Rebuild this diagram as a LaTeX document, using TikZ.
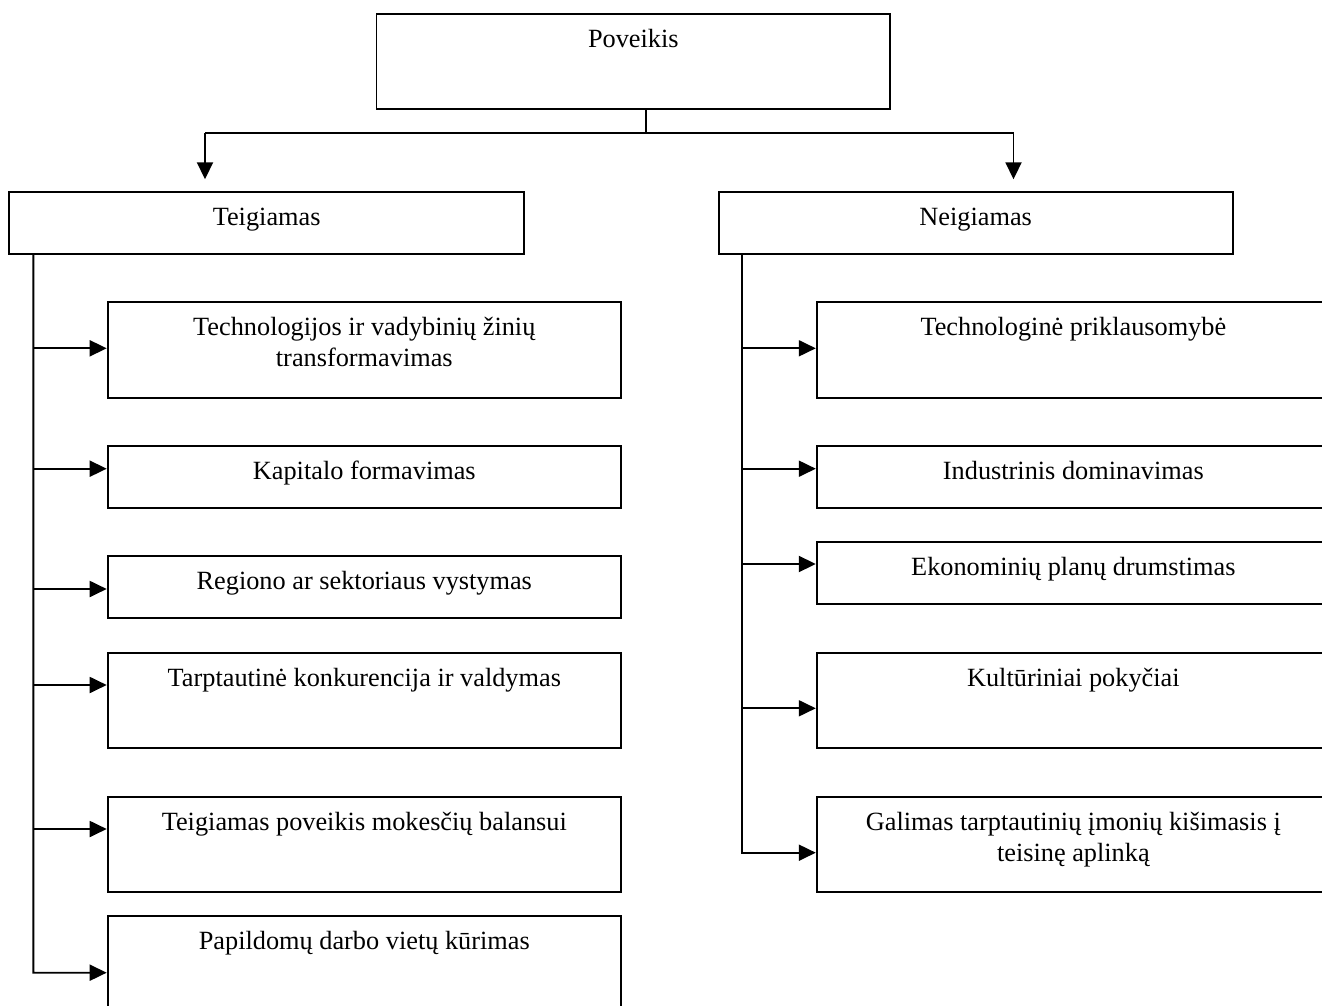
\documentclass[tikz,border=0pt]{standalone}
\usepackage{fontspec}
\setmainfont{Liberation Serif}
\usetikzlibrary{arrows.meta}
\tikzset{
  box/.style={draw, line width=1.9pt, inner sep=0pt, anchor=north west},
  txt/.style={anchor=base, inner sep=0pt, font=\fontsize{26.3}{32}\selectfont},
  conn/.style={line width=1.9pt},
  arr/.style={line width=1.9pt, -{Triangle[length=17pt,width=16pt]}}
}
\begin{document}
\begin{tikzpicture}[x=1pt,y=-1pt]
\useasboundingbox (0,0) rectangle (1322,1006);
\clip (0,0) rectangle (1322,1006);
% top level
\node[box, minimum width=513.8pt, minimum height=95pt] (P) at (375.5,12.7) {};
\node[txt] (Pt) at ([yshift=-34.8pt]P.north) {Poveikis};
% second level
\node[box, minimum width=514.6pt, minimum height=62pt] (T) at (8.4,190.7) {};
\node[txt] (Tt) at ([yshift=-34.8pt]T.north) {Teigiamas};
\node[box, minimum width=514pt, minimum height=62pt] (N) at (717.7,190.7) {};
\node[txt] (Nt) at ([yshift=-34.8pt]N.north) {Neigiamas};
% left boxes
\node[box, minimum width=513.3pt, minimum height=96pt] (L1) at (106.7,300.7) {};
\node[txt] (L1a) at ([yshift=-34.8pt]L1.north) {Technologijos ir vadybinių žinių};
\node[txt] (L1b) at ([yshift=-65.5pt]L1.north) {transformavimas};
\node[box, minimum width=513.3pt, minimum height=62pt] (L2) at (106.7,444.7) {};
\node[txt] (L2a) at ([yshift=-34.8pt]L2.north) {Kapitalo formavimas};
\node[box, minimum width=513.3pt, minimum height=62pt] (L3) at (106.7,554.7) {};
\node[txt] (L3a) at ([yshift=-34.8pt]L3.north) {Regiono ar sektoriaus vystymas};
\node[box, minimum width=513.3pt, minimum height=95pt] (L4) at (106.7,651.7) {};
\node[txt] (L4a) at ([yshift=-34.8pt]L4.north) {Tarptautinė konkurencija ir valdymas};
\node[box, minimum width=513.3pt, minimum height=95.3pt] (L5) at (106.7,795.7) {};
\node[txt] (L5a) at ([yshift=-34.8pt]L5.north) {Teigiamas poveikis mokesčių balansui};
\node[box, minimum width=513.3pt, minimum height=96pt] (L6) at (106.7,915) {};
\node[txt] (L6a) at ([yshift=-34.8pt]L6.north) {Papildomų darbo vietų kūrimas};
% right boxes
\node[box, minimum width=513.2pt, minimum height=96pt] (R1) at (815.8,300.7) {};
\node[txt] (R1a) at ([yshift=-34.8pt]R1.north) {Technologinė priklausomybė};
\node[box, minimum width=513.2pt, minimum height=62pt] (R2) at (815.8,444.7) {};
\node[txt] (R2a) at ([yshift=-34.8pt]R2.north) {Industrinis dominavimas};
\node[box, minimum width=513.2pt, minimum height=62pt] (R3) at (815.8,540.7) {};
\node[txt] (R3a) at ([yshift=-34.8pt]R3.north) {Ekonominių planų drumstimas};
\node[box, minimum width=513.2pt, minimum height=95pt] (R4) at (815.8,651.7) {};
\node[txt] (R4a) at ([yshift=-34.8pt]R4.north) {Kultūriniai pokyčiai};
\node[box, minimum width=513.2pt, minimum height=95.3pt] (R5) at (815.8,795.7) {};
\node[txt] (R5a) at ([yshift=-34.8pt]R5.north) {Galimas tarptautinių įmonių kišimasis į};
\node[txt] (R5b) at ([yshift=-65.5pt]R5.north) {teisinę aplinką};
% top connectors
\coordinate (hy) at (0,132.7);
\coordinate (pj) at ([xshift=12.6pt]P.south);
\coordinate (aL) at (205,132.7);
\coordinate (aR) at (1013.5,132.7);
\draw[conn] (pj) -- (pj |- hy);
\draw[conn] (aL) -- (aR);
\draw[arr, shorten >=11.4pt] (aL) -- (aL |- T.north);
\draw[arr, shorten >=11.4pt] (aR) -- (aR |- N.north);
% left trunk
\coordinate (lt) at ([xshift=24.9pt]T.south west);
\coordinate (la1) at (33.3,348.3);
\coordinate (la2) at (33.3,468.7);
\coordinate (la3) at (33.3,589);
\coordinate (la4) at (33.3,685);
\coordinate (la5) at (33.3,829);
\coordinate (la6) at (33.3,972.7);
\draw[arr] (lt) -- (la6) -- (la6 -| L6.west);
\draw[arr] (la1) -- (la1 -| L1.west);
\draw[arr] (la2) -- (la2 -| L2.west);
\draw[arr] (la3) -- (la3 -| L3.west);
\draw[arr] (la4) -- (la4 -| L4.west);
\draw[arr] (la5) -- (la5 -| L5.west);
% right trunk
\coordinate (rt) at ([xshift=24.6pt]N.south west);
\coordinate (ra1) at (742.3,348.3);
\coordinate (ra2) at (742.3,468.7);
\coordinate (ra3) at (742.3,564);
\coordinate (ra4) at (742.3,708.3);
\coordinate (ra5) at (742.3,852.7);
\draw[arr] (rt) -- (ra5) -- (ra5 -| R5.west);
\draw[arr] (ra1) -- (ra1 -| R1.west);
\draw[arr] (ra2) -- (ra2 -| R2.west);
\draw[arr] (ra3) -- (ra3 -| R3.west);
\draw[arr] (ra4) -- (ra4 -| R4.west);
\end{tikzpicture}
\end{document}
